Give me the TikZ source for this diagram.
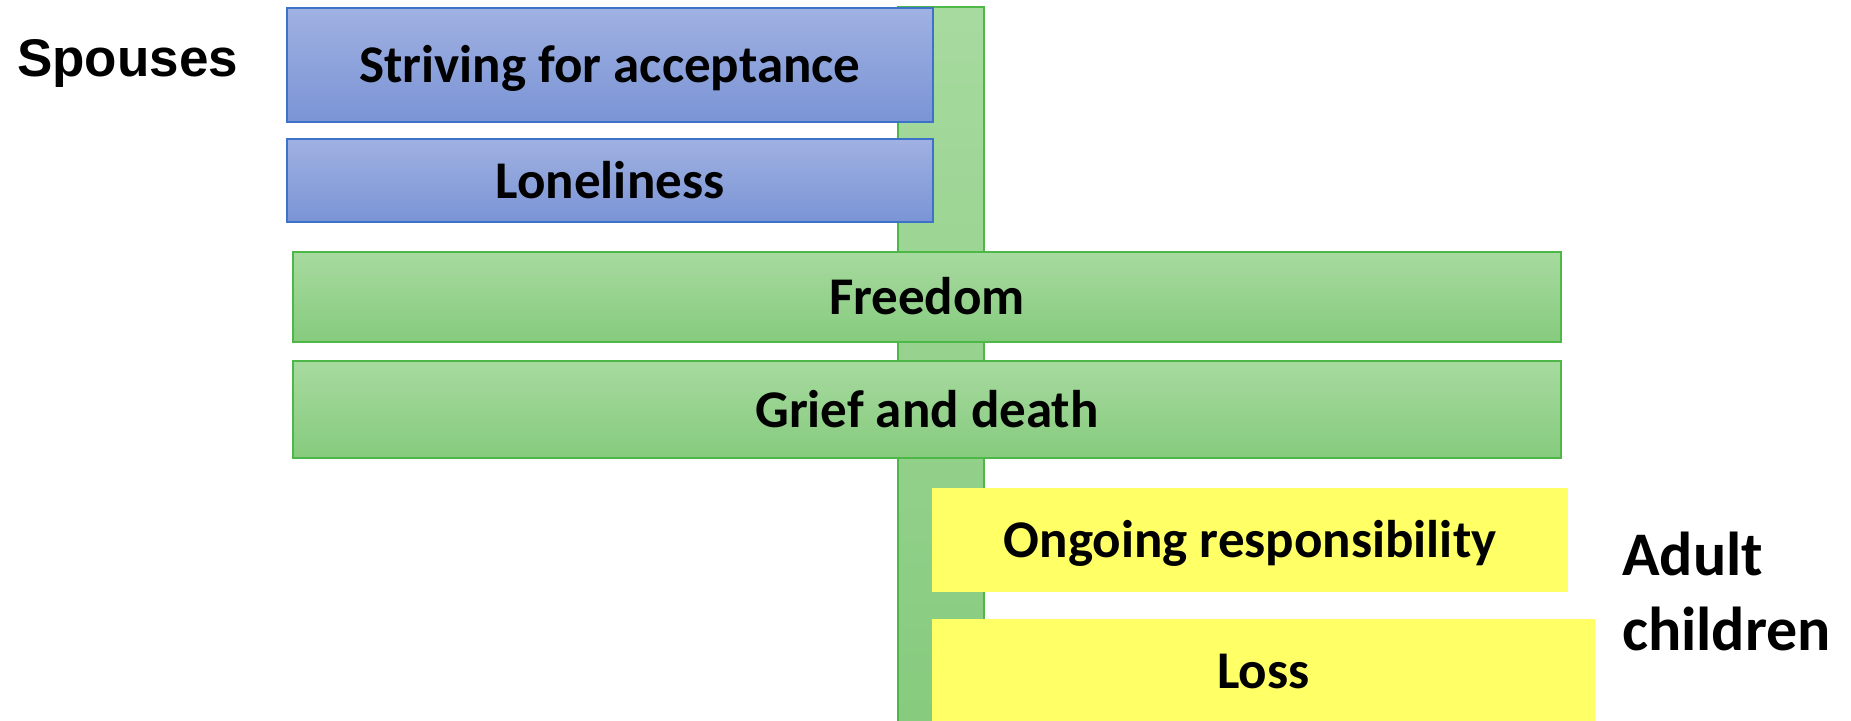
\documentclass[tikz,border=0pt]{standalone}
\usepackage{fontspec}
\setmainfont{Carlito}
\newfontfamily\arialfont{Liberation Sans}
\usetikzlibrary{positioning}
\definecolor{sptop}{HTML}{A0B1E2}
\definecolor{spbot}{HTML}{7A94D5}
\definecolor{spline}{HTML}{3C73C8}
\definecolor{grtop}{HTML}{A7DA9F}
\definecolor{grbot}{HTML}{86CB7E}
\definecolor{grline}{HTML}{4DB847}
\definecolor{ylfill}{HTML}{FFFF66}

\begin{document}
\begin{tikzpicture}[x=1pt, y=-1pt,
  box/.style={minimum width=#1, inner sep=0pt, text=black,
    text height=35pt, text depth=0pt,
    font=\fontsize{53}{60}\selectfont\bfseries},
  spousebox/.style={box=646pt, top color=sptop, bottom color=spbot,
    draw=spline, line width=1.5pt},
  bothbox/.style={box=1268pt, top color=grtop, bottom color=grbot,
    draw=grline, line width=1.5pt},
  childbox/.style={box=#1, fill=ylfill},
  grouplbl/.style={inner sep=0pt, text=black}]

\useasboundingbox (0,0) rectangle (1851,720);

% Spine behind the boxes
\node[top color=grtop, bottom color=grbot, draw=grline, line width=1.5pt,
  minimum width=86pt, minimum height=718pt, inner sep=0pt] (spine) at (941,366) {};

% Spouses
\node[spousebox, minimum height=114pt] (accept) at (610,65) {Striving for acceptance};
\node[spousebox, minimum height=83pt] (lonely) at (610,180.5) {Loneliness};

% Both
\node[bothbox, minimum height=90pt] (freedom) at (927,297) {Freedom};
\node[bothbox, minimum height=97pt] (grief) at (927,409.5) {Grief and death};

% Adult children
\node[childbox=636pt, minimum height=104pt] (respons) at (1250,540) {Ongoing responsibility};
\node[childbox=663pt, minimum height=103pt] (loss) at (1263.5,670.5) {Loss};

% Group labels
\node[grouplbl, anchor=base west, font=\arialfont\fontsize{53}{60}\selectfont\bfseries]
  (spouses) at (17,76) {Spouses};
\node[grouplbl, anchor=base west, font=\fontsize{62}{65}\selectfont\bfseries]
  (adult) at (1622,575) {Adult};
\node[grouplbl, anchor=base west, font=\fontsize{62}{65}\selectfont\bfseries]
  (kids) at ([yshift=-75pt]adult.base west) {children};

\end{tikzpicture}
\end{document}
